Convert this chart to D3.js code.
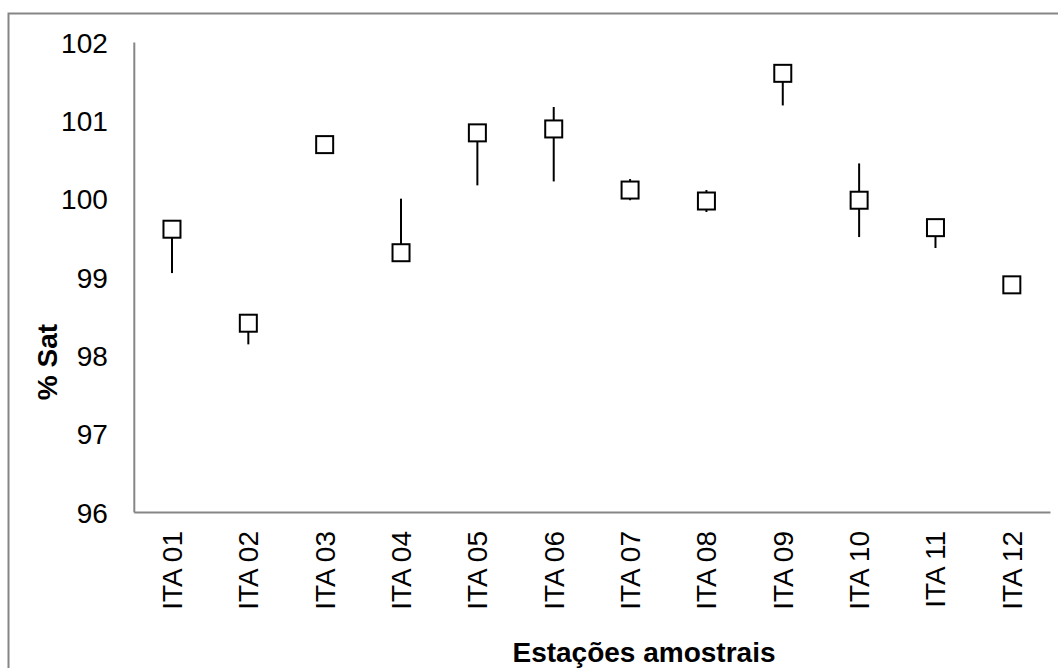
<!DOCTYPE html>
<html>
<head>
<meta charset="utf-8">
<script src="https://cdn.jsdelivr.net/npm/d3@7"></script>
<style>
  html, body { margin: 0; padding: 0; background: #fff; }
  svg { display: block; }
  text { font-family: "Liberation Sans", Arial, sans-serif; fill: #000; }
</style>
</head>
<body>
<svg id="chart" width="1058" height="668"></svg>
<script>
// Sampling stations and oxygen saturation (% Sat) with error extents
const stations = ["ITA 01", "ITA 02", "ITA 03", "ITA 04", "ITA 05", "ITA 06",
                  "ITA 07", "ITA 08", "ITA 09", "ITA 10", "ITA 11", "ITA 12"];
const satValues = [99.61, 98.41, 100.69, 99.31, 100.84, 100.89,
                   100.11, 99.97, 101.60, 99.98, 99.63, 98.90];
const errMinus  = [0.56, 0.27, 0, 0, 0.67, 0.67, 0.13, 0.14, 0.41, 0.47, 0.26, 0];
const errPlus   = [0, 0, 0, 0.69, 0, 0.28, 0.14, 0.14, 0, 0.47, 0, 0];
const yTicks    = [96, 97, 98, 99, 100, 101, 102];

const yTitle = "% Sat";
const xTitle = "Estações amostrais";

const svg = d3.select("#chart");
const axisColor = "#868686";

// Chart-area border
svg.append("rect")
  .attr("x", 8.5).attr("y", 13.5)
  .attr("width", 1200).attr("height", 800)
  .attr("fill", "none")
  .attr("stroke", axisColor)
  .attr("stroke-width", 2);

const plot = { left: 133.8, right: 1050, top: 42, bottom: 512 };

const x = d3.scaleBand()
  .domain(stations)
  .range([plot.left, plot.right]);

const y = d3.scaleLinear()
  .domain([96, 102])
  .range([plot.bottom, plot.top]);

// Y axis: line and labels, no tick marks
const yAxis = svg.append("g")
  .attr("transform", `translate(${plot.left},0)`)
  .call(d3.axisLeft(y).tickValues(yTicks).tickSize(0).tickPadding(26).tickFormat(d3.format("d")));
yAxis.select(".domain").attr("stroke", axisColor).attr("stroke-width", 2);
yAxis.selectAll("text")
  .style("font-size", "28px")
  .style("font-family", "'Liberation Sans', Arial, sans-serif")
  .attr("dy", "0.36em");

// X axis: line and rotated labels
const xAxis = svg.append("g")
  .attr("transform", `translate(0,${plot.bottom})`)
  .call(d3.axisBottom(x).tickSize(0).tickPadding(0));
xAxis.select(".domain").attr("stroke", axisColor).attr("stroke-width", 2);
xAxis.selectAll("text")
  .style("font-size", "28px")
  .style("font-family", "'Liberation Sans', Arial, sans-serif")
  .attr("text-anchor", "end")
  .attr("dy", null)
  .attr("y", 0)
  .attr("transform", "translate(10,19) rotate(-90)");

// Error bars (drawn first so markers sit on top)
const cx = d => x(d) + x.bandwidth() / 2;
svg.append("g")
  .selectAll("line")
  .data(stations)
  .join("line")
  .attr("x1", d => cx(d))
  .attr("x2", d => cx(d))
  .attr("y1", (d, i) => y(satValues[i] - errMinus[i]))
  .attr("y2", (d, i) => y(satValues[i] + errPlus[i]))
  .attr("stroke", "#000")
  .attr("stroke-width", 2);

// Open square markers
const m = 17;
svg.append("g")
  .selectAll("rect")
  .data(stations)
  .join("rect")
  .attr("x", d => cx(d) - m / 2)
  .attr("y", (d, i) => y(satValues[i]) - m / 2)
  .attr("width", m)
  .attr("height", m)
  .attr("fill", "#fff")
  .attr("stroke", "#000")
  .attr("stroke-width", 2);

// Axis titles
svg.append("text")
  .attr("x", 644)
  .attr("y", 662)
  .attr("text-anchor", "middle")
  .style("font-size", "28px")
  .style("font-weight", "bold")
  .text(xTitle);

svg.append("text")
  .attr("transform", "translate(57,362) rotate(-90)")
  .attr("text-anchor", "middle")
  .style("font-size", "28px")
  .style("font-weight", "bold")
  .text(yTitle);
</script>
</body>
</html>
